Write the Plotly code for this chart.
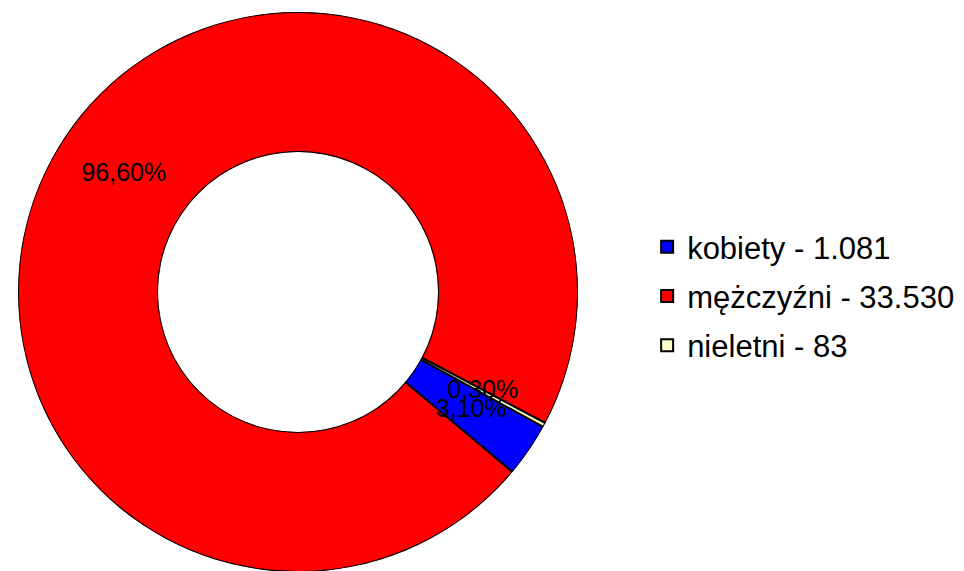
import plotly.graph_objects as go

# slices, in the order they are drawn (clockwise)
labels = ['kobiety - 1.081', 'mężczyźni - 33.530', 'nieletni - 83']
values = [1081, 33530, 83]
pct_labels = ['3,10%', '96,60%', '0,30%']
colors = ['#0000FF', '#FF0000', '#FFFFCC']

start_angle = 118.8  # degrees clockwise from 12 o'clock where the first slice begins

# angular width and middle of every slice, from the values
total = sum(values)
widths = [360.0 * v / total for v in values]
mids = []
acc = start_angle
for w in widths:
    mids.append(acc + w / 2)
    acc += w

fig = go.Figure()

# donut slices
for i in range(len(values)):
    fig.add_trace(go.Barpolar(
        r=[1], theta=[mids[i]], width=[widths[i]],
        name=labels[i],
        legendgroup=labels[i],
        marker=dict(color=colors[i], line=dict(color='black', width=2)),
        hoverinfo='name',
    ))

# percentage labels, in the middle of the ring
fig.add_trace(go.Scatterpolar(
    r=[0.5] * len(values), theta=mids,
    mode='text', text=pct_labels,
    textposition='middle center',
    textfont=dict(family='Liberation Sans, Arial', size=25, color='black'),
    showlegend=False, hoverinfo='skip',
))

fig.update_layout(
    width=964, height=571,
    margin=dict(l=0, r=0, t=0, b=0),
    paper_bgcolor='white',
    plot_bgcolor='white',
    font=dict(family='Liberation Sans, Arial', color='black'),
    polar=dict(
        domain=dict(x=[0.0104, 0.5913], y=[0.0123, 0.993]),
        hole=0.5,
        bgcolor='rgba(0,0,0,0)',
        bargap=0,
        barmode='overlay',
        radialaxis=dict(range=[0, 1], visible=False, showgrid=False),
        angularaxis=dict(visible=False, showgrid=False, rotation=90, direction='clockwise'),
    ),
    legend=dict(
        x=0.663, y=0.4956, xanchor='left', yanchor='middle',
        font=dict(size=31, color='black'),
        tracegroupgap=6,
        itemwidth=30,
    ),
    showlegend=True,
)

fig.write_html('out.html')
